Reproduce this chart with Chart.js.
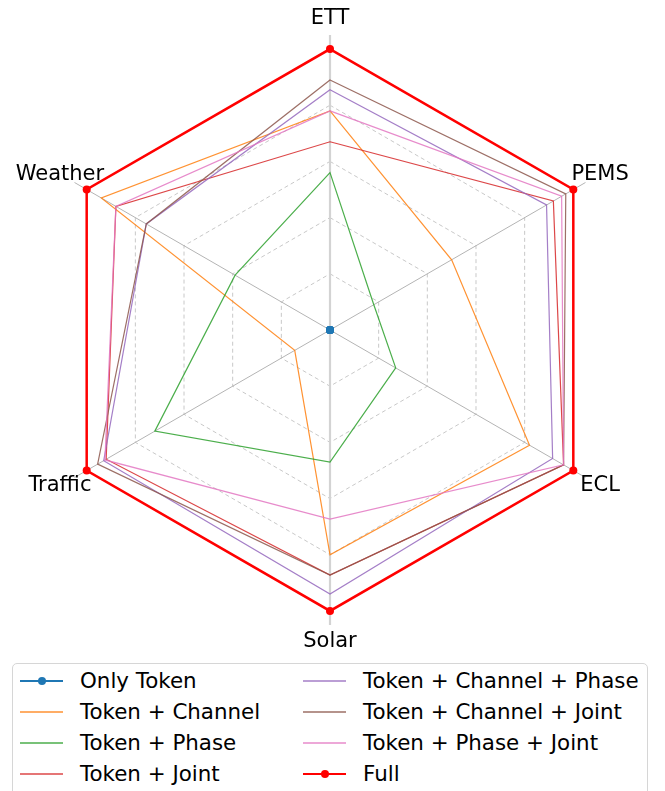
<!DOCTYPE html>
<html>
<head>
<meta charset="utf-8">
<script src="https://cdn.jsdelivr.net/npm/chart.js@4.4.1/dist/chart.umd.min.js"></script>
<style>
  body { margin: 0; background: #fff; font-family: "DejaVu Sans", sans-serif; }
  #wrap { position: relative; width: 665px; height: 791px; overflow: hidden; }
  #chartBox { position: absolute; left: 0; top: 0; width: 665px; height: 660px; }
  #legend {
    position: absolute; left: 12px; top: 663px; width: 634px; height: 140px;
    border: 1px solid #d6d6d6; border-radius: 5px; background: #fff;
  }
  .item { position: absolute; height: 30px; }
  .item .line { position: absolute; left: 0; top: 14px; width: 43px; }
  .item .dot { position: absolute; left: 18px; width: 8px; height: 8px; border-radius: 50%; top: 11px; }
  .item .txt { position: absolute; left: 60px; top: 0; line-height: 30px; font-size: 21.4px; color: #000; white-space: nowrap; }
</style>
</head>
<body>
<div id="wrap">
  <div id="chartBox"><canvas id="radar"></canvas></div>
  <div id="legend"></div>
</div>
<script>
// axes (clockwise from the top)
const axes = ['ETT', 'PEMS', 'ECL', 'Solar', 'Traffic', 'Weather'];

// normalised scores
const onlyToken         = [0, 0, 0, 0, 0, 0];
const tokenChannel      = [0.78, 0.50, 0.82, 0.80, 0.145, 0.94];
const tokenPhase        = [0.56, 0.18, 0.27, 0.47, 0.72, 0.39];
const tokenJoint        = [0.67, 0.918, 0.96, 0.872, 0.92, 0.88];
const tokenChannelPhase = [0.855, 0.89, 0.915, 0.94, 0.93, 0.755];
const tokenChannelJoint = [0.89, 0.969, 0.96, 0.872, 0.955, 0.755];
const tokenPhaseJoint   = [0.78, 0.952, 0.96, 0.673, 0.925, 0.88];
const full              = [1, 1, 1, 1, 1, 1];

const seriesNames = ['Only Token', 'Token + Channel', 'Token + Phase', 'Token + Joint',
  'Token + Channel + Phase', 'Token + Channel + Joint', 'Token + Phase + Joint', 'Full'];
const seriesData = [onlyToken, tokenChannel, tokenPhase, tokenJoint,
  tokenChannelPhase, tokenChannelJoint, tokenPhaseJoint, full];
const seriesColors = ['#1f77b4', 'rgba(255,127,14,0.85)', 'rgba(44,160,44,0.85)', 'rgba(214,39,40,0.85)',
  'rgba(148,103,189,0.85)', 'rgba(140,86,75,0.85)', 'rgba(227,119,194,0.85)', '#ff0000'];
const withMarker = [true, false, false, false, false, false, false, true];

const datasets = seriesNames.map((name, i) => ({
  label: name,
  data: seriesData[i],
  borderColor: seriesColors[i],
  backgroundColor: seriesColors[i],
  borderWidth: i === 7 ? 2.5 : 1.2,
  fill: false,
  pointRadius: withMarker[i] ? 4 : 0,
  pointHoverRadius: withMarker[i] ? 4 : 0,
  pointBorderWidth: 0,
  pointBackgroundColor: seriesColors[i],
  order: seriesNames.length - i
}));

// axis names around the web
const axisLabels = {
  id: 'axisLabels',
  beforeDatasetsDraw(chart) {
    const scale = chart.scales.r;
    const ctx = chart.ctx;
    const dist = scale.getDistanceFromCenterForValue(1) * 1.11;
    ctx.save();
    ctx.font = '21px "DejaVu Sans"';
    ctx.fillStyle = '#000';
    ctx.textAlign = 'center';
    ctx.textBaseline = 'middle';
    axes.forEach((name, i) => {
      const p = scale.getPointPosition(i, dist);
      ctx.fillText(name, p.x, p.y);
    });
    ctx.restore();
  }
};

new Chart(document.getElementById('radar'), {
  type: 'radar',
  data: { labels: axes, datasets: datasets },
  plugins: [axisLabels],
  options: {
    responsive: true,
    maintainAspectRatio: false,
    animation: false,
    layout: { padding: { left: 35, right: 40, top: 35, bottom: 35 } },
    plugins: {
      legend: { display: false },
      tooltip: { enabled: false }
    },
    scales: {
      r: {
        min: 0,
        max: 1.05,
        ticks: { display: false, stepSize: 0.2 },
        pointLabels: { display: false },
        grid: {
          color: ctx => (ctx.tick && ctx.tick.value > 1.01) ? 'rgba(0,0,0,0)' : '#c8c8c8',
          lineWidth: 1
        },
        border: { dash: [4, 3] },
        angleLines: {
          color: ctx => (ctx.index === 0 || ctx.index === 3) ? '#d3d3d3' : '#b4b4b4',
          lineWidth: ctx => (ctx.index === 0 || ctx.index === 3) ? 2.2 : 1
        }
      }
    }
  }
});

// legend in two columns, filled column by column
const legend = document.getElementById('legend');
seriesNames.forEach((name, i) => {
  const col = Math.floor(i / 4);
  const row = i % 4;
  const item = document.createElement('div');
  item.className = 'item';
  item.style.left = (col === 0 ? 7 : 290) + 'px';
  item.style.top = (2 + row * 31) + 'px';
  const line = document.createElement('div');
  line.className = 'line';
  const lw = i === 7 ? 2.5 : (i === 0 ? 1.8 : 1.5);
  line.style.height = lw + 'px';
  line.style.top = (15 - lw / 2) + 'px';
  line.style.background = seriesColors[i];
  line.style.opacity = (i === 0 || i === 7) ? 1 : 0.75;
  item.appendChild(line);
  if (withMarker[i]) {
    const dot = document.createElement('div');
    dot.className = 'dot';
    dot.style.background = seriesColors[i];
    item.appendChild(dot);
  }
  const txt = document.createElement('div');
  txt.className = 'txt';
  txt.textContent = name;
  item.appendChild(txt);
  legend.appendChild(item);
});
</script>
</body>
</html>
